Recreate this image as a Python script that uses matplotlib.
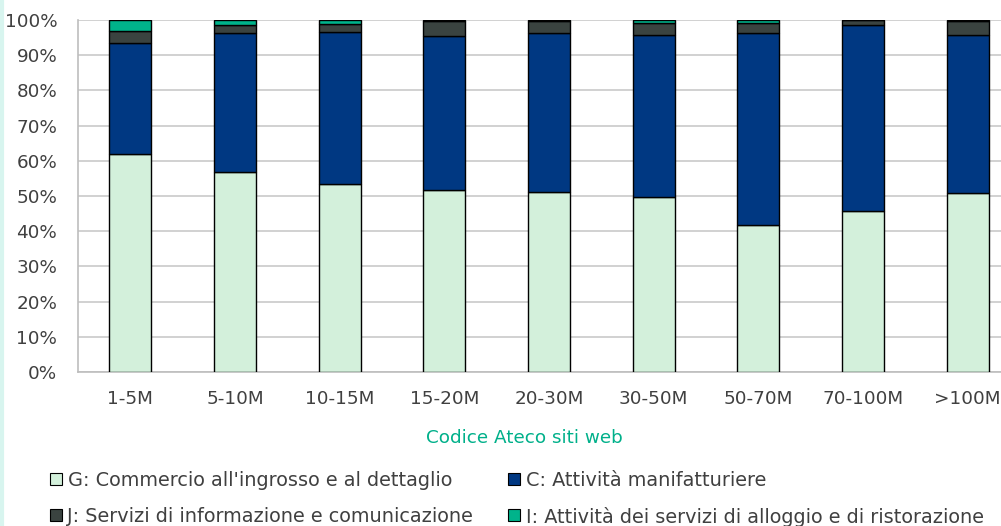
import matplotlib
matplotlib.use("Agg")
import matplotlib.pyplot as plt
from matplotlib.patches import Rectangle
import numpy as np

plt.rcParams['font.family'] = ['DejaVu Sans']

categories = ["1-5M", "5-10M", "10-15M", "15-20M", "20-30M", "30-50M", "50-70M", "70-100M", ">100M"]
commercio = [61.9, 56.7, 53.4, 51.8, 51.1, 49.6, 41.8, 45.6, 50.9]
manifatturiere = [31.7, 39.5, 43.2, 43.7, 45.1, 46.0, 54.4, 52.9, 44.9]
informazione = [3.2, 2.3, 2.3, 4.2, 3.4, 3.5, 2.9, 1.5, 3.8]
ristorazione = [3.2, 1.5, 1.1, 0.3, 0.4, 0.9, 0.9, 0.0, 0.4]

series = [
    ("G: Commercio all'ingrosso e al dettaglio", commercio, "#D3F0DB"),
    ("C: Attività manifatturiere", manifatturiere, "#003882"),
    ("J: Servizi di informazione e comunicazione", informazione, "#3A4340"),
    ("I: Attività dei servizi di alloggio e di ristorazione", ristorazione, "#00B38B"),
]

W, H = 1001, 526
fig = plt.figure(figsize=(W / 100, H / 100), dpi=100)
fig.patch.set_facecolor("white")
TXT = "#404040"
FS_TICK = 13.2
FS_LEG = 13.9

# axes span wider than the canvas on the right, so the last gap is clipped
left, right, top, bottom = 78, 1020, 20, 372
ax = fig.add_axes([left / W, 1 - bottom / H, (right - left) / W, (bottom - top) / H])

x = np.arange(len(categories))
base = np.zeros(len(categories))
for name, vals, col in series:
    vals = np.array(vals)
    ax.bar(x, vals, bottom=base, width=0.4, color=col, edgecolor="black",
           linewidth=1.0, zorder=3)
    base += vals

ax.set_xlim(-0.5, len(categories) - 0.5)
ax.set_ylim(0, 100)
ax.set_yticks(np.arange(0, 101, 10))
ax.set_yticklabels([f"{v}%" for v in range(0, 101, 10)])
ax.set_xticks(x)
ax.set_xticklabels(categories)
ax.tick_params(axis="both", length=0, labelsize=FS_TICK, colors=TXT)
ax.tick_params(axis="x", pad=13)
ax.tick_params(axis="y", pad=15)

ax.yaxis.grid(True, color="#C9C9C9", linewidth=1.2, zorder=0)
ax.set_axisbelow(True)
for s in ["top", "right"]:
    ax.spines[s].set_visible(False)
for s in ["left", "bottom"]:
    ax.spines[s].set_color("#BDBDBD")
    ax.spines[s].set_linewidth(1.2)

fig.text(524 / W, 1 - 438 / H, "Codice Ateco siti web", ha="center", va="center",
         fontsize=FS_TICK, color="#00B08A")

# legend laid out in two rows of two entries
slots = [(50, 479), (508, 479), (50, 515), (508, 515)]
sq = 12
for (name, _, col), (lx, ly) in zip(series, slots):
    fig.add_artist(Rectangle((lx / W, 1 - (ly + sq / 2) / H), sq / W, sq / H,
                             facecolor=col, edgecolor="black", linewidth=0.8,
                             transform=fig.transFigure))
    fig.text((lx + sq + 5.5) / W, 1 - ly / H, name, ha="left", va="center_baseline",
             fontsize=FS_LEG, color=TXT)

# thin accent stripe along the left border
fig.add_artist(plt.Line2D([1.5 / W, 1.5 / W], [0, 1], color="#D8F5EF", linewidth=3,
                          transform=fig.transFigure))

fig.savefig("out.png", dpi=100)
